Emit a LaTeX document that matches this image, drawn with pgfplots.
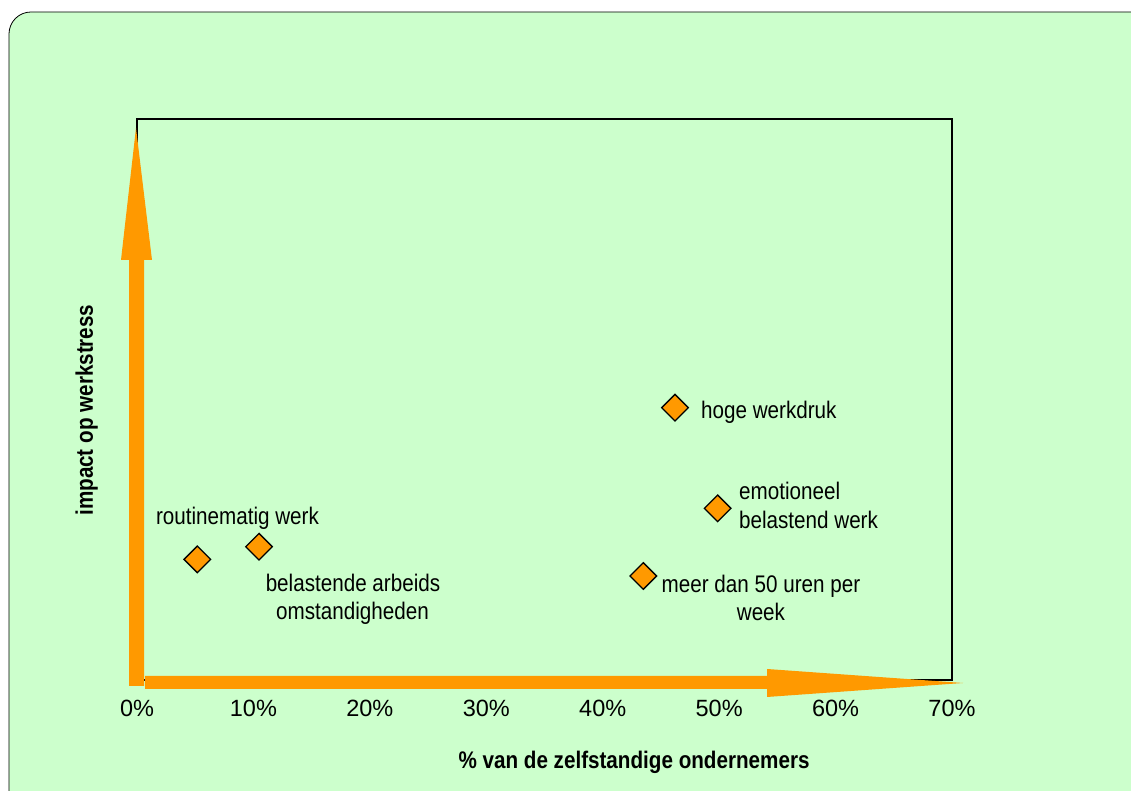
\documentclass[border=0pt]{standalone}
\usepackage{pgfplots}
\pgfplotsset{compat=1.18}
\usepackage{fontspec}
\setmainfont{Liberation Sans}
\newfontfamily\narrowfont[FakeStretch=0.86]{Liberation Sans}
\definecolor{bg}{HTML}{CCFFCC}
\definecolor{orng}{HTML}{FF9900}
\begin{document}
\begin{tikzpicture}
\useasboundingbox (-137pt,-111pt) rectangle (994pt,680pt);
\clip (-137pt,-111pt) rectangle (994pt,680pt);
\draw[fill=bg, draw=black, line width=0.8pt, rounded corners=22pt] (-128pt,-140pt) rectangle (1020pt,668pt);
\begin{axis}[
  at={(0pt,0pt)}, anchor=south west,
  scale only axis, width=815pt, height=561pt,
  xmin=0, xmax=70, ymin=0, ymax=100,
  xtick={0,10,...,70}, ytick=\empty,
  major tick length=0pt,
  axis line style={line width=1.8pt, black},
  xticklabel={\pgfmathprintnumber{\tick}\%},
  xticklabel style={font=\fontsize{23.5}{27}\selectfont, yshift=-17pt},
  /pgf/number format/assume math mode=true,
  clip=false,
]
\addplot[only marks, mark=square*, mark size=9.4pt,
  mark options={rotate=45, fill=orng, draw=black, line width=1.3pt}]
  coordinates {(5.18,21.5) (10.48,23.76) (46.21,48.54) (49.87,30.6) (43.49,18.54)};
\begin{scope}[every node/.style={font=\narrowfont\fontsize{24}{29}\selectfont, inner sep=0pt}]
\node[anchor=base] at (axis cs:8.63,27.63) {routinematig werk};
\node[anchor=base] at (axis cs:18.55,15.69) {belastende arbeids};
\node[anchor=base] at (axis cs:18.51,10.87) {omstandigheden};
\node[anchor=base west] at (axis cs:48.44,46.70) {hoge werkdruk};
\node[anchor=base west] at (axis cs:51.70,32.26) {emotioneel};
\node[anchor=base west] at (axis cs:51.70,27.09) {belastend werk};
\node[anchor=base] at (axis cs:53.59,15.51) {meer dan 50 uren per};
\node[anchor=base] at (axis cs:53.59,10.52) {week};
\node[anchor=base, font=\narrowfont\bfseries\fontsize{24}{29}\selectfont] at (axis cs:42.69,-15.69) {\% van de zelfstandige ondernemers};
\node[anchor=base, rotate=90, font=\narrowfont\bfseries\fontsize{24}{29}\selectfont] at (axis cs:-3.78,48.1) {impact op werkstress};
\end{scope}
\end{axis}
% decorative orange axis arrows
\fill[orng] (-8pt,-6pt) -- (7pt,-6pt) -- (7pt,420pt) -- (15pt,420pt) -- (-1pt,552pt) -- (-16pt,420pt) -- (-8pt,420pt) -- cycle;
\fill[orng] (8pt,-9pt) -- (630pt,-9pt) -- (630pt,-17pt) -- (826pt,-3pt) -- (630pt,11pt) -- (630pt,4pt) -- (8pt,4pt) -- cycle;
\end{tikzpicture}
\end{document}
